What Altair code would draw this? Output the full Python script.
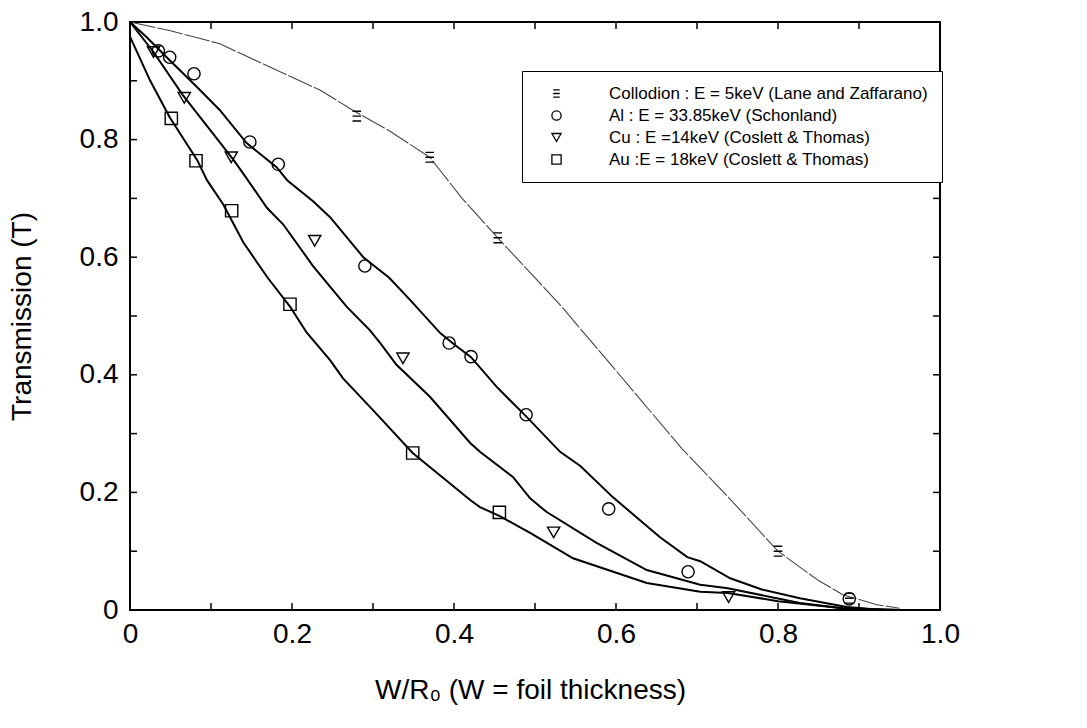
import altair as alt
import pandas as pd

FONT = "Liberation Sans, Arial, sans-serif"

SERIES = [
    "Collodion : E = 5keV (Lane and Zaffarano)",
    "Al : E = 33.85keV (Schonland)",
    "Cu : E =14keV (Coslett & Thomas)",
    "Au :E = 18keV (Coslett & Thomas)",
]
SHAPES = [
    "M-0.7,-0.8H0.7M-0.7,0H0.7M-0.7,0.8H0.7",
    "circle",
    "triangle-down",
    "square",
]

# Simulated curves
coll_x = [0, 0.05, 0.111, 0.17, 0.235, 0.275, 0.32, 0.37, 0.41, 0.454, 0.531, 0.60, 0.681, 0.74, 0.80, 0.85, 0.88, 0.922, 0.95]
coll_t = [1.0, 0.985, 0.963, 0.925, 0.884, 0.850, 0.815, 0.770, 0.700, 0.633, 0.519, 0.407, 0.275, 0.190, 0.100, 0.050, 0.026, 0.009, 0.003]

al_x = [0, 0.02, 0.049, 0.083, 0.111, 0.144, 0.181, 0.194, 0.226, 0.247, 0.288, 0.32, 0.346, 0.383, 0.40, 0.421, 0.453, 0.49, 0.531, 0.556, 0.596, 0.654, 0.688, 0.704, 0.741, 0.78, 0.827, 0.885, 0.93, 0.97]
al_t = [1.0, 0.975, 0.935, 0.889, 0.850, 0.794, 0.753, 0.731, 0.695, 0.668, 0.600, 0.565, 0.527, 0.471, 0.452, 0.430, 0.379, 0.328, 0.269, 0.245, 0.192, 0.124, 0.090, 0.083, 0.054, 0.035, 0.020, 0.005, 0.0, 0.0]

cu_x = [0, 0.029, 0.065, 0.102, 0.128, 0.142, 0.169, 0.189, 0.226, 0.259, 0.268, 0.296, 0.309, 0.329, 0.370, 0.420, 0.432, 0.473, 0.494, 0.514, 0.576, 0.638, 0.704, 0.738, 0.827, 0.88, 0.95]
cu_t = [1.0, 0.949, 0.876, 0.811, 0.765, 0.738, 0.684, 0.656, 0.585, 0.530, 0.515, 0.476, 0.454, 0.417, 0.363, 0.284, 0.269, 0.226, 0.190, 0.167, 0.114, 0.068, 0.043, 0.037, 0.012, 0.003, 0.0]

au_x = [0, 0.025, 0.049, 0.083, 0.095, 0.115, 0.14, 0.17, 0.198, 0.218, 0.247, 0.263, 0.300, 0.349, 0.420, 0.432, 0.456, 0.494, 0.547, 0.638, 0.704, 0.738, 0.80, 0.88, 0.95]
au_t = [0.975, 0.900, 0.838, 0.765, 0.731, 0.690, 0.625, 0.565, 0.515, 0.472, 0.425, 0.394, 0.340, 0.267, 0.187, 0.175, 0.160, 0.131, 0.088, 0.046, 0.031, 0.029, 0.015, 0.003, 0.0]

# Experimental points
coll_px = [0.28, 0.37, 0.454, 0.80, 0.888]
coll_pt = [0.84, 0.77, 0.633, 0.10, 0.02]
al_px = [0.035, 0.049, 0.079, 0.148, 0.183, 0.290, 0.394, 0.421, 0.489, 0.591, 0.689, 0.888]
al_pt = [0.951, 0.940, 0.912, 0.796, 0.758, 0.585, 0.454, 0.431, 0.332, 0.172, 0.065, 0.019]
cu_px = [0.029, 0.067, 0.125, 0.228, 0.337, 0.523, 0.739]
cu_pt = [0.949, 0.871, 0.770, 0.628, 0.428, 0.132, 0.022]
au_px = [0.051, 0.0815, 0.1255, 0.1975, 0.349, 0.456]
au_pt = [0.836, 0.764, 0.679, 0.520, 0.267, 0.166]

TICKS = [0, 0.1, 0.2, 0.3, 0.4, 0.5, 0.6, 0.7, 0.8, 0.9, 1.0]
INNER_TICKS = [0.1, 0.2, 0.3, 0.4, 0.5, 0.6, 0.7, 0.8, 0.9]

def curve_df(name, xs, ts):
    return pd.DataFrame({"series": name, "x": xs, "t": ts, "i": range(len(xs))})

coll_curve = curve_df(SERIES[0], coll_x, coll_t)
main_curves = pd.concat([
    curve_df(SERIES[1], al_x, al_t),
    curve_df(SERIES[2], cu_x, cu_t),
    curve_df(SERIES[3], au_x, au_t),
])
points = pd.concat([
    pd.DataFrame({"series": SERIES[0], "x": coll_px, "t": coll_pt}),
    pd.DataFrame({"series": SERIES[1], "x": al_px, "t": al_pt}),
    pd.DataFrame({"series": SERIES[2], "x": cu_px, "t": cu_pt}),
    pd.DataFrame({"series": SERIES[3], "x": au_px, "t": au_pt}),
])
ticks_df = pd.DataFrame({"v": INNER_TICKS})

W, H = 810, 588
LBL = "datum.value == 0 ? '0' : (round(datum.value*10) % 2 == 0 ? format(datum.value, '.1f') : '')"

xscale = alt.Scale(domain=[0, 1], nice=False, zero=False)
yscale = alt.Scale(domain=[0, 1], nice=False, zero=False)

xaxis = alt.Axis(values=TICKS, labelExpr=LBL, labelFlush=False, labelFont=FONT,
                 labelFontSize=28, labelColor="black", labelPadding=10,
                 title="W/R\u2080 (W = foil thickness)", titleFont=FONT, titleFontSize=28,
                 titleFontWeight="normal", titleColor="black",
                 titleX=400, titleY=80, titleAlign="center", titleBaseline="middle")
yaxis = alt.Axis(values=TICKS, labelExpr=LBL, labelFlush=False, labelFont=FONT,
                 labelFontSize=28, labelColor="black", labelPadding=12,
                 title="Transmission (T)", titleFont=FONT, titleFontSize=28,
                 titleFontWeight="normal", titleColor="black",
                 titleX=-108, titleY=294, titleAngle=-90, titleAlign="center",
                 titleBaseline="middle")

X = alt.X("x:Q", scale=xscale, axis=xaxis)
Y = alt.Y("t:Q", scale=yscale, axis=yaxis)

coll_line = alt.Chart(coll_curve).mark_line(color="#444444", strokeWidth=1.1,
                                            strokeDash=[26, 2]).encode(
    x=X, y=Y, order="i:Q")

lines = alt.Chart(main_curves).mark_line(color="black", strokeWidth=2).encode(
    x=X, y=Y, detail="series:N", order="i:Q")

pts = alt.Chart(points).mark_point(filled=False, color="black", strokeWidth=1.4,
                                   size=150, opacity=1).encode(
    x=X, y=Y,
    shape=alt.Shape("series:N", scale=alt.Scale(domain=SERIES, range=SHAPES),
                    legend=alt.Legend(orient="none", legendX=392, legendY=49, title=None,
                                      strokeColor="black", fillColor="white",
                                      padding=14, cornerRadius=0,
                                      labelFont=FONT, labelFontSize=17, labelColor="black",
                                      labelLimit=0, labelOffset=44,
                                      symbolSize=85, symbolStrokeWidth=1.3,
                                      symbolStrokeColor="black", symbolFillColor="white",
                                      symbolOffset=12, rowPadding=4)),
)

tick_len = 7
bottom_ticks = alt.Chart(ticks_df).mark_rule(color="black", strokeWidth=1.5).encode(
    x=alt.X("v:Q", scale=xscale, axis=xaxis), y=alt.value(H), y2=alt.value(H - tick_len))
top_ticks = alt.Chart(ticks_df).mark_rule(color="black", strokeWidth=1.5).encode(
    x=alt.X("v:Q", scale=xscale, axis=xaxis), y=alt.value(0), y2=alt.value(tick_len))
left_ticks = alt.Chart(ticks_df).mark_rule(color="black", strokeWidth=1.5).encode(
    y=alt.Y("v:Q", scale=yscale, axis=yaxis), x=alt.value(0), x2=alt.value(tick_len))
right_ticks = alt.Chart(ticks_df).mark_rule(color="black", strokeWidth=1.5).encode(
    y=alt.Y("v:Q", scale=yscale, axis=yaxis), x=alt.value(W), x2=alt.value(W - tick_len))

chart = alt.layer(
    coll_line, lines, bottom_ticks, top_ticks, left_ticks, right_ticks, pts
).properties(
    width=W, height=H,
    padding={"left": 130, "top": 22, "right": 147, "bottom": 118},
    autosize="none",
    background="white",
).configure_view(
    stroke="black", strokeWidth=2
).configure_axis(
    grid=False, domain=False, ticks=False
)

chart.save("out.html", embed_options={"renderer": "svg", "actions": False})
